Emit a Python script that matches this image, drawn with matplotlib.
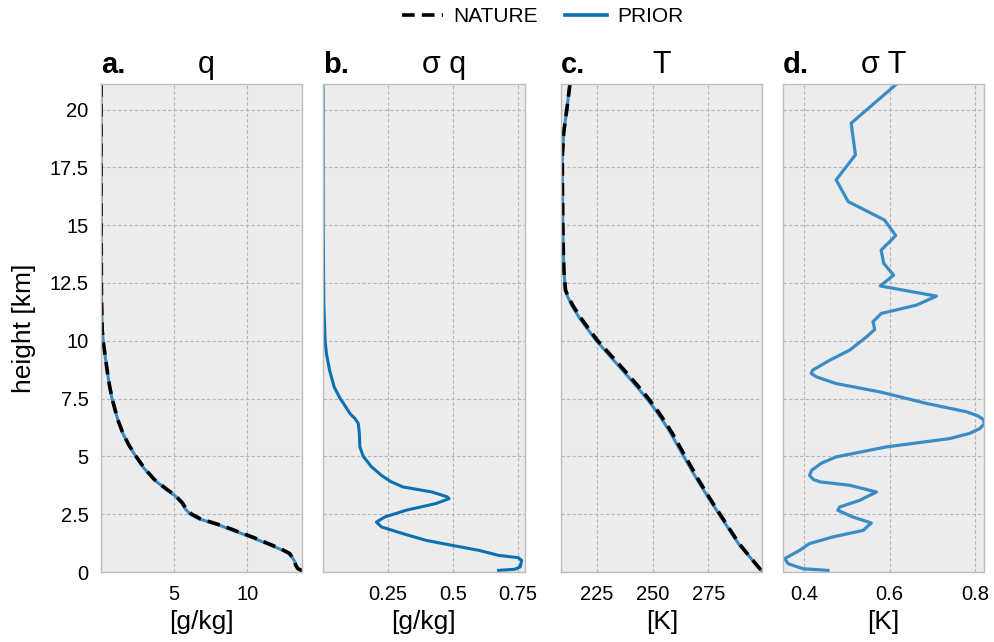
import matplotlib
matplotlib.use("Agg")
import matplotlib.pyplot as plt
from matplotlib.lines import Line2D

plt.rcParams["font.family"] = ["Liberation Sans", "DejaVu Sans"]

# ---- specific humidity q [g/kg] ----
h_q = [21.1, 18.0, 15.0, 12.0, 10.5, 10.0, 9.5, 9.0, 8.5, 8.0, 7.5, 7.0, 6.5, 6.0,
       5.5, 5.0, 4.5, 4.0, 3.6, 3.3, 3.0, 2.7, 2.5, 2.3, 2.0, 1.5, 1.0, 0.8, 0.6,
       0.45, 0.3, 0.15, 0.05]
q_nature = [0.01, 0.01, 0.01, 0.03, 0.08, 0.15, 0.25, 0.36, 0.47, 0.60, 0.76, 0.97,
            1.20, 1.50, 1.90, 2.40, 2.95, 3.65, 4.45, 5.10, 5.55, 5.85, 6.20, 6.80,
            8.30, 10.40, 12.30, 12.90, 13.10, 13.25, 13.30, 13.45, 13.75]
q_prior = [0.01, 0.01, 0.01, 0.03, 0.08, 0.15, 0.25, 0.36, 0.47, 0.60, 0.75, 0.96,
           1.19, 1.49, 1.88, 2.38, 2.92, 3.62, 4.40, 5.05, 5.50, 5.80, 6.10, 6.70,
           8.20, 10.30, 12.20, 12.85, 13.10, 13.25, 13.30, 13.45, 13.75]

# ---- spread of q [g/kg] ----
h_sq = [21.1, 15.0, 11.6, 10.0, 9.45, 8.73, 8.0, 7.5, 7.29, 6.85, 6.64, 6.42, 5.99,
        5.41, 5.0, 4.55, 4.18, 3.9, 3.68, 3.46, 3.25, 3.17, 2.96, 2.67, 2.38, 2.16,
        1.95, 1.66, 1.37, 1.15, 0.94, 0.72, 0.62, 0.5, 0.22, 0.12, 0.07]
sq_prior = [0.0, 0.0005, 0.003, 0.008, 0.013, 0.025, 0.043, 0.066, 0.079, 0.104,
            0.123, 0.136, 0.140, 0.142, 0.155, 0.187, 0.225, 0.263, 0.308, 0.420,
            0.479, 0.486, 0.435, 0.320, 0.238, 0.206, 0.225, 0.308, 0.397, 0.499,
            0.600, 0.677, 0.753, 0.766, 0.760, 0.740, 0.677]

# ---- temperature T [K] ----
h_T = [21.1, 20.0, 19.0, 18.0, 17.0, 16.0, 15.0, 14.0, 13.0, 12.2, 11.9, 11.5, 11.0,
       10.5, 10.0, 9.5, 9.0, 8.5, 8.0, 7.5, 7.0, 6.5, 6.0, 5.0, 4.0, 3.25, 2.5, 1.2, 0.05]
T_nature = [212.8, 211.4, 210.0, 209.4, 209.4, 209.5, 209.6, 209.8, 210.1, 210.8,
            212.0, 214.3, 217.6, 221.4, 225.3, 230.0, 234.7, 239.3, 243.8, 248.1,
            252.0, 255.5, 258.8, 264.6, 270.5, 275.2, 280.2, 289.0, 298.9]
T_prior = [212.8, 211.4, 210.0, 209.4, 209.4, 209.5, 209.6, 209.8, 210.1, 210.8,
           211.8, 213.8, 217.0, 220.8, 224.7, 229.3, 233.9, 238.5, 243.0, 247.3,
           251.3, 254.8, 258.1, 263.9, 269.9, 274.8, 279.8, 288.7, 298.9]

# ---- spread of T [K] ----
h_sT = [21.07, 19.41, 18.04, 16.96, 16.02, 15.22, 14.55, 13.92, 13.35, 12.84, 12.37,
        11.93, 11.54, 11.18, 10.82, 10.49, 10.17, 9.60, 9.16, 8.90, 8.73, 8.58, 8.44,
        8.15, 7.79, 7.29, 6.93, 6.75, 6.60, 6.42, 6.20, 6.00, 5.77, 5.41, 4.98, 4.70,
        4.40, 4.18, 4.00, 3.90, 3.75, 3.46, 3.10, 2.81, 2.67, 2.38, 2.12, 1.80, 1.52,
        1.23, 0.94, 0.58, 0.36, 0.14, 0.07]
sT_prior = [0.614, 0.510, 0.520, 0.475, 0.503, 0.588, 0.614, 0.580, 0.586, 0.609,
            0.578, 0.709, 0.662, 0.580, 0.561, 0.565, 0.546, 0.507, 0.460, 0.436,
            0.420, 0.417, 0.429, 0.475, 0.577, 0.686, 0.779, 0.806, 0.818, 0.821,
            0.810, 0.787, 0.740, 0.592, 0.475, 0.440, 0.418, 0.413, 0.422, 0.437,
            0.507, 0.569, 0.530, 0.483, 0.479, 0.514, 0.557, 0.538, 0.468, 0.413,
            0.390, 0.355, 0.363, 0.398, 0.456]

y_ticks = [0, 2.5, 5, 7.5, 10, 12.5, 15, 17.5, 20]
y_ticklabels = ["0", "2.5", "5", "7.5", "10", "12.5", "15", "17.5", "20"]

panels = [
    dict(tag="a.", title="q", title_x=0.52, unit="[g/kg]",
         xticks=[5, 10], xticklabels=["5", "10"], xlim=(0.0, 13.77)),
    dict(tag="b.", title="σ q", title_x=0.6, unit="[g/kg]",
         xticks=[0.25, 0.5, 0.75], xticklabels=["0.25", "0.5", "0.75"], xlim=(0.0, 0.777)),
    dict(tag="c.", title="T", title_x=0.5, unit="[K]",
         xticks=[225, 250, 275], xticklabels=["225", "250", "275"], xlim=(208.8, 299.3)),
    dict(tag="d.", title="σ T", title_x=0.5, unit="[K]",
         xticks=[0.4, 0.6, 0.8], xticklabels=["0.4", "0.6", "0.8"], xlim=(0.351, 0.821)),
]

PRIOR_C = "#3a8dc4"
PRIOR_DARK = "#0b70b2"
DASH = (0, (3.5, 2.0))

fig = plt.figure(figsize=(9.94, 6.42), dpi=100)
lefts = [0.1016, 0.325, 0.5644, 0.7877]
width = 0.2027
bottom, height = 0.109, 0.760

axes = []
for i, p in enumerate(panels):
    ax = fig.add_axes([lefts[i], bottom, width, height])
    ax.set_facecolor("#ececec")
    for s in ax.spines.values():
        s.set_color("#bdbdbd")
        s.set_linewidth(1.0)
    ax.grid(True, color="#b4b4b4", linestyle=(0, (3, 2)), linewidth=0.8)
    ax.set_axisbelow(True)
    ax.set_ylim(0, 21.1)
    ax.set_xlim(*p["xlim"])
    ax.set_xticks(p["xticks"])
    ax.set_xticklabels(p["xticklabels"])
    ax.set_yticks(y_ticks)
    if i == 0:
        ax.set_yticklabels(y_ticklabels)
        ax.set_ylabel("height [km]", fontsize=19, labelpad=10)
    else:
        ax.set_yticklabels([])
    ax.tick_params(length=0, labelsize=14.5, pad=9)
    ax.set_xlabel(p["unit"], fontsize=19, labelpad=5)
    ax.text(0.0, 1.022, p["tag"], transform=ax.transAxes, fontsize=21,
            fontweight="bold", ha="left", va="baseline")
    ax.text(p["title_x"], 1.022, p["title"], transform=ax.transAxes, fontsize=22,
            ha="center", va="baseline")
    axes.append(ax)

axes[0].plot(q_prior, h_q, color=PRIOR_C, lw=2.2)
axes[0].plot(q_nature, h_q, color="black", lw=2.6, linestyle=DASH)
axes[1].plot(sq_prior, h_sq, color=PRIOR_DARK, lw=2.2)
axes[2].plot(T_prior, h_T, color=PRIOR_C, lw=2.2)
axes[2].plot(T_nature, h_T, color="black", lw=2.6, linestyle=DASH)
axes[3].plot(sT_prior, h_sT, color=PRIOR_C, lw=2.3)

handles = [Line2D([], [], color="black", lw=2.6, linestyle=DASH),
           Line2D([], [], color=PRIOR_DARK, lw=2.6)]
fig.legend(handles, ["NATURE", "PRIOR"], loc="upper center",
           bbox_to_anchor=(0.546, 1.018), ncol=2, frameon=False, fontsize=15,
           handlelength=2.0, handletextpad=0.5, columnspacing=1.3)

fig.savefig("out.png", dpi=100)
